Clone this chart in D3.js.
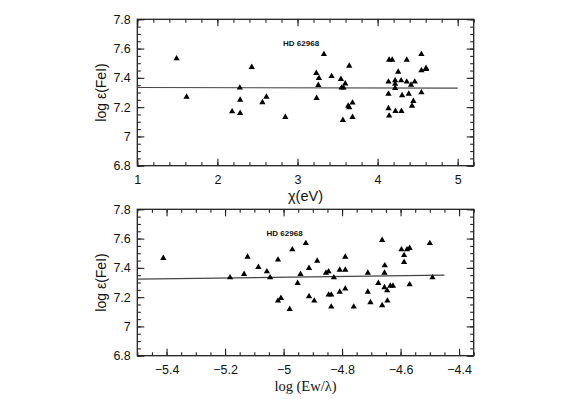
<!DOCTYPE html>
<html>
<head>
<meta charset="utf-8">
<script src="https://cdn.jsdelivr.net/npm/d3@7"></script>
<style>
  html, body { margin: 0; padding: 0; background: #fff; }
  svg { display: block; }
  .tick text { font-family: "Liberation Sans", Arial, sans-serif; }
</style>
</head>
<body>
<svg id="chart" width="580" height="399"></svg>
<script>
// ---- data ----
const yTicks = [6.8, 7, 7.2, 7.4, 7.6, 7.8];
const topXTicks = [1, 2, 3, 4, 5];
const botXTicks = [-5.4, -5.2, -5, -4.8, -4.6, -4.4];

const topX = [1.49, 1.615, 2.184, 2.28, 2.284, 2.284, 2.429, 2.562, 2.612, 2.848,
  3.235, 3.268, 3.26, 3.239, 3.33, 3.426, 3.542, 3.596, 3.55, 3.575,
  3.646, 3.633, 3.646, 3.687, 3.567, 3.687, 4.144, 4.182, 4.364, 4.547,
  4.257, 4.547, 4.605, 4.605, 4.136, 4.219, 4.219, 4.294, 4.364, 4.464,
  4.418, 4.219, 4.136, 4.389, 4.306, 4.547, 4.447, 4.43, 4.136, 4.144,
  4.223, 4.298];
const topY = [7.532, 7.270, 7.170, 7.332, 7.25, 7.159, 7.473, 7.232, 7.27, 7.132,
  7.432, 7.398, 7.35, 7.261, 7.561, 7.411, 7.391, 7.361, 7.332, 7.332,
  7.482, 7.209, 7.198, 7.230, 7.111, 7.132, 7.523, 7.523, 7.523, 7.561,
  7.441, 7.45, 7.466, 7.459, 7.373, 7.382, 7.359, 7.382, 7.373, 7.373,
  7.352, 7.330, 7.291, 7.291, 7.280, 7.30, 7.241, 7.209, 7.191, 7.141,
  7.173, 7.173];

const botX = [-5.411, -5.183, -5.135, -5.123, -5.086, -5.057, -5.046, -5.019, -5.019, -5.009,
  -4.979, -4.970, -4.952, -4.942, -4.924, -4.913, -4.913, -4.895, -4.885, -4.855,
  -4.846, -4.846, -4.837, -4.837, -4.828, -4.808, -4.808, -4.789, -4.789, -4.789,
  -4.760, -4.712, -4.712, -4.703, -4.676, -4.663, -4.663, -4.655, -4.654, -4.655,
  -4.646, -4.645, -4.635, -4.626, -4.597, -4.588, -4.588, -4.578, -4.569, -4.569,
  -4.5, -4.491];
const botY = [7.466, 7.334, 7.357, 7.475, 7.405, 7.375, 7.334, 7.455, 7.175, 7.193,
  7.118, 7.525, 7.295, 7.357, 7.568, 7.398, 7.205, 7.175, 7.448, 7.366,
  7.375, 7.216, 7.216, 7.134, 7.334, 7.386, 7.236, 7.386, 7.257, 7.475,
  7.134, 7.366, 7.236, 7.164, 7.295, 7.589, 7.143, 7.266, 7.416, 7.366,
  7.245, 7.175, 7.277, 7.277, 7.525, 7.486, 7.439, 7.525, 7.534, 7.286,
  7.568, 7.334];

const topFitX = [1, 5], topFitY = [7.334, 7.330];
const botFitX = [-5.5, -4.45], botFitY = [7.323, 7.350];

const starLabel = "HD 62968";
const yLabel = "log \u03B5(FeI)";
const topXLabel = "\u03C7(eV)";
const botXLabel = "log (Ew/\u03BB)";

// ---- layout ----
const svg = d3.select("#chart");
const L = 137.3, R = 473.7;
const fmt = d => (d < 0 ? "\u2212" : "") + Math.abs(d);

function panel(opts) {
  const { top, bottom, xDomain, xMajor, xMinorStep, xs, ys, fitX, fitY, xLabel, xLabelFont, labelPos } = opts;
  const g = svg.append("g");
  const x = d3.scaleLinear().domain(xDomain).range([L, R]);
  const y = d3.scaleLinear().domain([6.8, 7.8]).range([bottom, top]);

  const xMinor = d3.range(Math.ceil(xDomain[0] / xMinorStep - 1e-6), Math.floor(xDomain[1] / xMinorStep + 1e-6) + 1)
    .map(i => +(i * xMinorStep).toFixed(4));
  const yMinor = d3.range(0, 21).map(i => +(6.8 + i * 0.05).toFixed(3));

  const MAJ = 7, MIN = 3.5;
  const axStyle = sel => {
    sel.select(".domain").remove();
    sel.selectAll(".tick line").attr("stroke", "#222").attr("stroke-width", 1.1);
  };
  // minor ticks
  g.append("g").attr("transform", `translate(0,${bottom})`)
    .call(d3.axisBottom(x).tickValues(xMinor).tickSize(-MIN).tickFormat("")).call(axStyle);
  g.append("g").attr("transform", `translate(0,${top})`)
    .call(d3.axisTop(x).tickValues(xMinor).tickSize(-MIN).tickFormat("")).call(axStyle);
  g.append("g").attr("transform", `translate(${L},0)`)
    .call(d3.axisLeft(y).tickValues(yMinor).tickSize(-MIN).tickFormat("")).call(axStyle);
  g.append("g").attr("transform", `translate(${R},0)`)
    .call(d3.axisRight(y).tickValues(yMinor).tickSize(-MIN).tickFormat("")).call(axStyle);
  // major ticks
  const bx = g.append("g").attr("transform", `translate(0,${bottom})`)
    .call(d3.axisBottom(x).tickValues(xMajor).tickSize(-MAJ).tickPadding(9).tickFormat(fmt)).call(axStyle);
  bx.selectAll(".tick text").attr("font-size", 12.5).attr("fill", "#111").attr("dy", "0.71em");
  g.append("g").attr("transform", `translate(0,${top})`)
    .call(d3.axisTop(x).tickValues(xMajor).tickSize(-MAJ).tickFormat("")).call(axStyle);
  const ly = g.append("g").attr("transform", `translate(${L},0)`)
    .call(d3.axisLeft(y).tickValues(yTicks).tickSize(-MAJ).tickPadding(6.5).tickFormat(fmt)).call(axStyle);
  ly.selectAll(".tick text").attr("font-size", 12.5).attr("fill", "#111");
  g.append("g").attr("transform", `translate(${R},0)`)
    .call(d3.axisRight(y).tickValues(yTicks).tickSize(-MAJ).tickFormat("")).call(axStyle);

  // frame
  g.append("rect").attr("x", L).attr("y", top).attr("width", R - L).attr("height", bottom - top)
    .attr("fill", "none").attr("stroke", "#222").attr("stroke-width", 1.3);

  // fit line
  g.append("path")
    .datum(fitX.map((v, i) => [v, fitY[i]]))
    .attr("d", d3.line().x(d => x(d[0])).y(d => y(d[1])))
    .attr("fill", "none").attr("stroke", "#444").attr("stroke-width", 1.2);

  // points
  const tri = d3.symbol().type(d3.symbolTriangle).size(17);
  g.append("g").selectAll("path.pt").data(xs.map((v, i) => [v, ys[i]])).join("path")
    .attr("class", "pt")
    .attr("transform", d => `translate(${x(d[0])},${y(d[1])})`)
    .attr("d", tri).attr("fill", "#000");

  // star label
  g.append("text").attr("x", x(labelPos[0])).attr("y", y(labelPos[1]))
    .attr("font-family", "Liberation Sans, Arial, sans-serif").attr("font-weight", "bold")
    .attr("font-size", 8).attr("fill", "#111").text(starLabel);

  // y label
  g.append("text").attr("transform", `translate(106,${(top + bottom) / 2}) rotate(-90)`)
    .attr("text-anchor", "middle")
    .attr("font-family", "Liberation Sans, Arial, sans-serif").attr("font-size", 14)
    .attr("fill", "#111").text(yLabel);

  // x label
  g.append("text").attr("x", (L + R) / 2).attr("y", bottom + 35)
    .attr("text-anchor", "middle").attr("font-family", xLabelFont).attr("font-size", 14.5)
    .attr("fill", "#111").text(xLabel);
}

panel({
  top: 19.3, bottom: 165.7, xDomain: [1, 5.2], xMajor: topXTicks, xMinorStep: 0.2,
  xs: topX, ys: topY, fitX: topFitX, fitY: topFitY,
  xLabel: topXLabel, xLabelFont: "Liberation Sans, Arial, sans-serif", labelPos: [2.82, 7.62]
});
panel({
  top: 209.3, bottom: 355.7, xDomain: [-5.5, -4.35], xMajor: botXTicks, xMinorStep: 0.05,
  xs: botX, ys: botY, fitX: botFitX, fitY: botFitY,
  xLabel: botXLabel, xLabelFont: "Liberation Serif, Times New Roman, serif", labelPos: [-5.058, 7.62]
});
</script>
</body>
</html>
